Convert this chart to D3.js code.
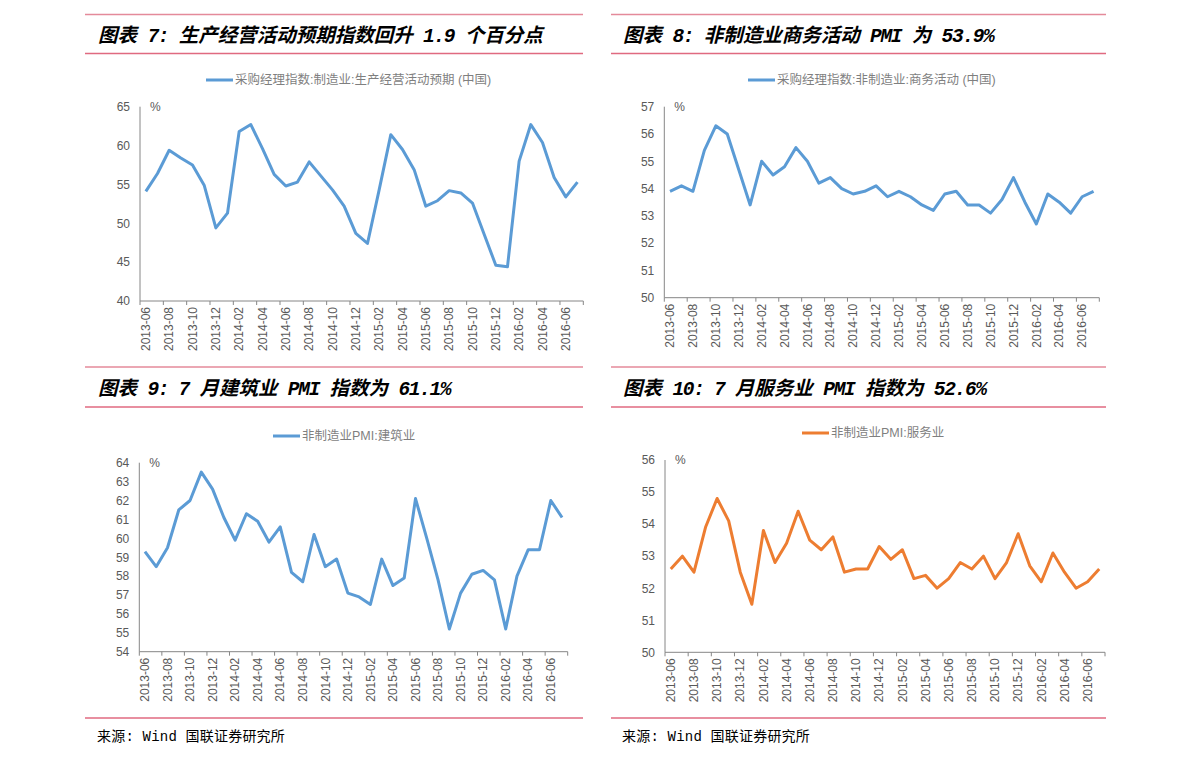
<!DOCTYPE html>
<html>
<head>
<meta charset="utf-8">
<script src="https://cdn.jsdelivr.net/npm/d3@7/dist/d3.min.js"></script>
<style>
  body { margin: 0; background: #fff; }
  svg { display: block; }
  .title { font-family: 'Liberation Mono', 'Noto Sans CJK SC', monospace; font-size: 19.5px; font-style: italic; font-weight: bold; fill: #000; }
  .title .latin { letter-spacing: -1.3px; }
  .legend text { font-family: 'Liberation Sans', 'Noto Sans CJK SC', sans-serif; font-size: 12.5px; fill: #7f7f7f; }
  .tick text { font-family: 'Liberation Sans', sans-serif; font-size: 12px; fill: #595959; }
  .unit { font-family: 'Liberation Sans', sans-serif; font-size: 12px; fill: #595959; }
  .source { font-family: 'Liberation Mono', 'Noto Sans CJK SC', monospace; font-size: 14px; letter-spacing: 0.2px; fill: #000; }
</style>
</head>
<body>
<svg width="1191" height="764"></svg>
<script>
// categories: months 2013-06 .. 2016-07
var months = [
  "2013-06","2013-07","2013-08","2013-09","2013-10","2013-11","2013-12",
  "2014-01","2014-02","2014-03","2014-04","2014-05","2014-06","2014-07","2014-08","2014-09","2014-10","2014-11","2014-12",
  "2015-01","2015-02","2015-03","2015-04","2015-05","2015-06","2015-07","2015-08","2015-09","2015-10","2015-11","2015-12",
  "2016-01","2016-02","2016-03","2016-04","2016-05","2016-06","2016-07"
];

// 采购经理指数:制造业:生产经营活动预期
var expectData = [54.1,56.4,59.4,58.4,57.5,54.9,49.4,51.3,61.8,62.7,59.6,56.3,54.8,55.3,57.9,56.1,54.3,52.2,48.7,
  47.4,54.3,61.4,59.5,56.9,52.2,52.9,54.2,53.9,52.6,48.6,44.6,44.4,58.0,62.7,60.4,55.9,53.4,55.3];

// 采购经理指数:非制造业:商务活动
var businessData = [53.9,54.1,53.9,55.4,56.3,56.0,54.7,53.4,55.0,54.5,54.8,55.5,55.0,54.2,54.4,54.0,53.8,53.9,54.1,
  53.7,53.9,53.7,53.4,53.2,53.8,53.9,53.4,53.4,53.1,53.6,54.4,53.5,52.7,53.8,53.5,53.1,53.7,53.9];

// 非制造业PMI:建筑业
var constructionData = [59.3,58.5,59.5,61.5,62.0,63.5,62.6,61.1,59.9,61.3,60.9,59.8,60.6,58.2,57.7,60.2,58.5,58.9,57.1,
  56.9,56.5,58.9,57.5,57.9,62.1,60.0,57.8,55.2,57.1,58.1,58.3,57.8,55.2,58.0,59.4,59.4,62.0,61.1];

// 非制造业PMI:服务业
var servicesData = [52.6,53.0,52.5,53.9,54.8,54.1,52.5,51.5,53.8,52.8,53.4,54.4,53.5,53.2,53.6,52.5,52.6,52.6,53.3,
  52.9,53.2,52.3,52.4,52.0,52.3,52.8,52.6,53.0,52.3,52.8,53.7,52.7,52.2,53.1,52.5,52.0,52.2,52.6];

var ticks1 = [40,45,50,55,60,65];
var ticks2 = [50,51,52,53,54,55,56,57];
var ticks3 = [54,55,56,57,58,59,60,61,62,63,64];
var ticks4 = [50,51,52,53,54,55,56];

var titles = [
  "图表 7: 生产经营活动预期指数回升 1.9 个百分点",
  "图表 8: 非制造业商务活动 PMI 为 53.9%",
  "图表 9: 7 月建筑业 PMI 指数为 61.1%",
  "图表 10: 7 月服务业 PMI 指数为 52.6%"
];
var legends = [
  "采购经理指数:制造业:生产经营活动预期 (中国)",
  "采购经理指数:非制造业:商务活动 (中国)",
  "非制造业PMI:建筑业",
  "非制造业PMI:服务业"
];
var sourceText = "来源: Wind 国联证券研究所";

var BLUE = "#5B9BD5", ORANGE = "#ED7D31", PINK = "#E06A80";

var svg = d3.select("svg");

// panel frames (title bars, footers)
var frames = [
  {x0: 85, x1: 583, top: 14.5, bot: 53.5, ty: 35, tx: 98},
  {x0: 611, x1: 1106, top: 14.5, bot: 53.5, ty: 35, tx: 623},
  {x0: 85, x1: 583, top: 367, bot: 407, ty: 388, tx: 98},
  {x0: 611, x1: 1106, top: 367, bot: 407, ty: 388, tx: 623}
];

frames.forEach(function(f, i) {
  svg.append("line").attr("x1", f.x0).attr("x2", f.x1).attr("y1", f.top).attr("y2", f.top)
    .attr("stroke", "#E48A9A").attr("stroke-width", 1.5);
  svg.append("line").attr("x1", f.x0).attr("x2", f.x1).attr("y1", f.bot).attr("y2", f.bot)
    .attr("stroke", PINK).attr("stroke-width", 1.5);
  var t = svg.append("text").attr("class", "title").attr("x", f.tx).attr("y", f.ty).attr("dy", "0.35em");
  // latin runs are half-width in the original font, so squeeze them a bit
  titles[i].split(/([\x00-\x7F]+)/).filter(function(s) { return s.length; }).forEach(function(s) {
    t.append("tspan").attr("class", /^[\x00-\x7F]+$/.test(s) ? "latin" : null)
      .attr("xml:space", "preserve").text(s);
  });
});

// footer lines + source
[[85, 583, 97], [611, 1106, 622]].forEach(function(f) {
  svg.append("line").attr("x1", f[0]).attr("x2", f[1]).attr("y1", 718).attr("y2", 718)
    .attr("stroke", PINK).attr("stroke-width", 1.5);
  svg.append("text").attr("class", "source").attr("x", f[2]).attr("y", 736)
    .attr("dy", "0.35em").text(sourceText);
});

var charts = [
  {data: expectData, ticks: ticks1, color: BLUE, legend: legends[0],
   x0: 140, x1: 583.3, yTop: 106.7, yBot: 301, lx: 206, ly: 80},
  {data: businessData, ticks: ticks2, color: BLUE, legend: legends[1],
   x0: 664.3, x1: 1099.3, yTop: 106.7, yBot: 297.7, lx: 748, ly: 80},
  {data: constructionData, ticks: ticks3, color: BLUE, legend: legends[2],
   x0: 139.3, x1: 567.7, yTop: 462.7, yBot: 651.7, lx: 273, ly: 436},
  {data: servicesData, ticks: ticks4, color: ORANGE, legend: legends[3],
   x0: 665, x1: 1105, yTop: 460, yBot: 652.3, lx: 802, ly: 433}
];

charts.forEach(drawChart);

function drawChart(c) {
  var x = d3.scaleBand().domain(months).range([c.x0, c.x1]).padding(0);
  var y = d3.scaleLinear().domain(d3.extent(c.ticks)).range([c.yBot, c.yTop]);
  var g = svg.append("g");

  // legend
  var lg = g.append("g").attr("class", "legend");
  lg.append("line").attr("x1", c.lx).attr("x2", c.lx + 27).attr("y1", c.ly).attr("y2", c.ly)
    .attr("stroke", c.color).attr("stroke-width", 3);
  lg.append("text").attr("x", c.lx + 29).attr("y", c.ly).attr("dy", "0.35em").text(c.legend);

  // y axis labels
  var yAxis = d3.axisLeft(y).tickValues(c.ticks).tickFormat(d3.format("d")).tickSize(0).tickPadding(10);
  g.append("g").attr("transform", "translate(" + c.x0 + ",0)").call(yAxis)
    .call(function(s) { s.select(".domain").remove(); });
  g.append("line").attr("x1", c.x0).attr("x2", c.x0).attr("y1", c.yTop).attr("y2", c.yBot)
    .attr("stroke", "#868686").attr("stroke-width", 1);
  g.append("text").attr("class", "unit").attr("x", c.x0 + 10).attr("y", c.yTop).attr("dy", "0.35em").text("%");

  // x axis: labels at category centres, ticks at boundaries every 2 months
  var labelMonths = months.filter(function(m, i) { return i % 2 === 0; });
  var xAxis = d3.axisBottom(x).tickValues(labelMonths).tickSize(0).tickPadding(0);
  var xg = g.append("g").attr("transform", "translate(0," + c.yBot + ")").call(xAxis);
  xg.select(".domain").remove();
  xg.selectAll(".tick text")
    .attr("transform", "rotate(-90)")
    .attr("x", -6).attr("y", 0).attr("dy", "0.35em")
    .style("text-anchor", "end");
  g.append("line").attr("x1", c.x0).attr("x2", c.x1).attr("y1", c.yBot).attr("y2", c.yBot)
    .attr("stroke", "#868686").attr("stroke-width", 1);
  var bounds = labelMonths.map(function(m) { return x(m); }).concat([c.x1]);
  g.selectAll(".xtick").data(bounds).enter().append("line")
    .attr("x1", function(d) { return d; }).attr("x2", function(d) { return d; })
    .attr("y1", c.yBot).attr("y2", c.yBot + 4)
    .attr("stroke", "#868686").attr("stroke-width", 1);

  // series line
  var line = d3.line()
    .x(function(d, i) { return x(months[i]) + x.bandwidth() / 2; })
    .y(function(d) { return y(d); });
  g.append("path").datum(c.data)
    .attr("d", line)
    .attr("fill", "none")
    .attr("stroke", c.color)
    .attr("stroke-width", 3)
    .attr("stroke-linejoin", "round");
}
</script>
</body>
</html>
